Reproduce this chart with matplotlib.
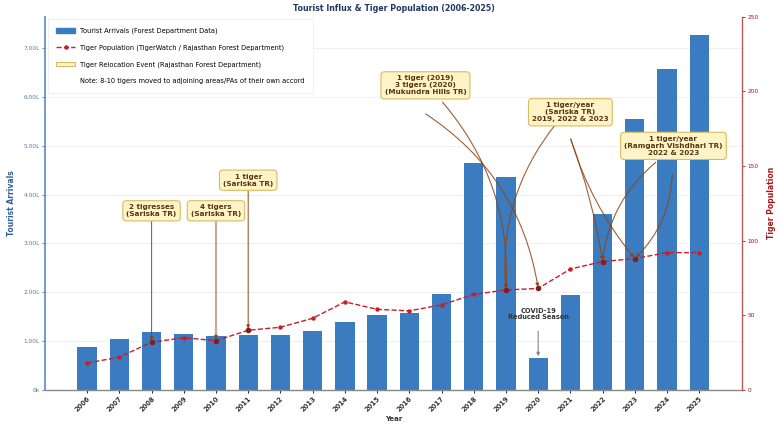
import matplotlib
matplotlib.use("Agg")
import matplotlib.pyplot as plt
from matplotlib.patches import Patch
from matplotlib.lines import Line2D
from matplotlib.ticker import FuncFormatter, MultipleLocator
import numpy as np

years = [str(y) for y in range(2006, 2026)]
tourist_arrivals = [89000, 104500, 119500, 115000, 111000, 113000, 113000, 121000,
                    139000, 154000, 158000, 196000, 464000, 436000, 65000, 194000,
                    360000, 555000, 658000, 728000]
tiger_population = [18, 22, 32, 35, 33, 40, 42, 48, 59, 54, 53, 57, 64, 67, 68, 81,
                    86, 88, 92, 92]
event_years = ["2008", "2010", "2011", "2019", "2020", "2022", "2023"]

BAR = "#3B7CC0"
RED = "#C81E2A"
BROWN = "#8B4513"
BOX_FC = "#FFF4C8"
BOX_EC = "#D8BC62"
TXT_BOX = "#5A3510"
LEFTC = "#2F5F9E"
RIGHTC = "#A51515"

fig = plt.figure(figsize=(7.8, 4.29), dpi=100)
ax = fig.add_axes([0.058, 0.091, 0.893, 0.87])
x = np.arange(len(years))

ax.bar(x, tourist_arrivals, width=0.6, color=BAR, zorder=2)
ax.set_xlim(-1.3, len(years) - 1 + 1.32)
ax.set_ylim(0, max(tourist_arrivals) * 1.05)
ax.yaxis.set_major_locator(MultipleLocator(100000))
ax.yaxis.set_major_formatter(FuncFormatter(lambda v, p: "0k" if v == 0 else f"{v/1e5:.2f}L"))
ax.set_xticks(x)
ax.set_xticklabels(years, rotation=45, ha="right", rotation_mode="anchor",
                   fontsize=4.8, fontweight="bold", color="#333333")
ax.tick_params(axis="y", labelsize=4.2, colors="#4A7CB5", length=2, width=0.6, pad=2)
ax.tick_params(axis="x", length=2, width=0.6, pad=2)
ax.grid(axis="y", color="#dddddd", linewidth=0.5, alpha=0.6, zorder=0)
ax.set_axisbelow(True)
ax.set_ylabel("Tourist Arrivals", fontsize=5.5, fontweight="bold", color=LEFTC, labelpad=5)
ax.set_xlabel("Year", fontsize=5, fontweight="bold", color="#333333", labelpad=2)
ax.spines["top"].set_visible(False)
ax.spines["left"].set_color("#5A8AC6")
ax.spines["left"].set_linewidth(1.2)
ax.spines["bottom"].set_color("#888888")
ax.spines["bottom"].set_linewidth(1.0)
ax.spines["right"].set_visible(False)

ax2 = ax.twinx()
ax2.plot(x, tiger_population, color=RED, linestyle="--", linewidth=1.0, marker="o",
         markersize=2.2, zorder=4)
ev_idx = [years.index(e) for e in event_years]
ax2.scatter([x[i] for i in ev_idx], [tiger_population[i] for i in ev_idx], s=9,
            color="#8B1A1A", zorder=5)
ax2.set_ylim(0, 250)
ax2.yaxis.set_major_locator(MultipleLocator(50))
ax2.tick_params(axis="y", labelsize=4.2, colors=RIGHTC, length=2, width=0.6, pad=2)
ax2.set_ylabel("Tiger Population", fontsize=5.5, fontweight="bold", color=RIGHTC, labelpad=6)
ax2.spines["top"].set_visible(False)
ax2.spines["left"].set_visible(False)
ax2.spines["bottom"].set_visible(False)
ax2.spines["right"].set_color("#B85A5A")
ax2.spines["right"].set_linewidth(1.0)

box = dict(boxstyle="round,pad=0.5", fc=BOX_FC, ec=BOX_EC, lw=0.8)
tkw = dict(fontsize=5.2, fontweight="bold", color=TXT_BOX, ha="center", va="center",
           linespacing=1.2, zorder=8)
ap = dict(arrowstyle="-|>", color=BROWN, lw=0.8, alpha=0.85, mutation_scale=5,
          shrinkA=0, shrinkB=1)

def yi(y):
    return years.index(y)

# single-arrow boxes
for txt, yr, ty in [("2 tigresses\n(Sariska TR)", "2008", 120),
                    ("4 tigers\n(Sariska TR)", "2010", 120),
                    ("1 tiger\n(Sariska TR)", "2011", 140.5)]:
    i = yi(yr)
    ax2.annotate(txt, xy=(x[i], tiger_population[i]), xytext=(x[i], ty), bbox=box,
                 arrowprops=dict(ap, shrinkA=0), **tkw)

# multi-arrow boxes
ax2.text(10.5, 204, "1 tiger (2019)\n3 tigers (2020)\n(Mukundra Hills TR)", bbox=box, **tkw)
ax2.text(15.0, 186, "1 tiger/year\n(Sariska TR)\n2019, 2022 & 2023", bbox=box, **tkw)
ax2.text(18.2, 163.5, "1 tiger/year\n(Ramgarh Vishdhari TR)\n2022 & 2023", bbox=box, **tkw)

arrows = [((11.03, 192.8), "2019", -0.2),
          ((10.51, 184.9), "2020", -0.22),
          ((14.55, 178.2), "2019", 0.2),
          ((15.01, 168.1), "2022", -0.05),
          ((15.01, 168.1), "2023", 0.1),
          ((17.65, 152.5), "2022", 0.2),
          ((18.16, 144.6), "2023", -0.2)]
for start, yr, rad in arrows:
    i = yi(yr)
    ax2.annotate("", xy=(x[i], tiger_population[i]), xytext=start,
                 arrowprops=dict(ap, connectionstyle=f"arc3,rad={rad}"), zorder=6)

# COVID note
ci = yi("2020")
ax.annotate("COVID-19\nReduced Season", xy=(x[ci], tourist_arrivals[ci] + 4000),
            xytext=(x[ci], 156000), ha="center", va="center", fontsize=4.8,
            fontweight="bold", color="#333333", linespacing=1.1,
            arrowprops=dict(arrowstyle="-|>", color="#888888", lw=0.8, mutation_scale=5,
                            shrinkA=6, shrinkB=0), zorder=7)

ax.set_title("Tourist Influx & Tiger Population (2006-2025)", fontsize=5.7,
             fontweight="bold", color="#1F3864", pad=4)

handles = [Patch(facecolor=BAR, edgecolor=BAR),
           Line2D([], [], color=RED, linestyle="--", marker="o", markersize=2.2, linewidth=1.0),
           Patch(facecolor=BOX_FC, edgecolor=BOX_EC, linewidth=0.8),
           Line2D([], [], color="none")]
labels = ["Tourist Arrivals (Forest Department Data)",
          "Tiger Population (TigerWatch / Rajasthan Forest Department)",
          "Tiger Relocation Event (Rajasthan Forest Department)",
          "Note: 8-10 tigers moved to adjoining areas/PAs of their own accord"]
leg = ax2.legend(handles, labels, loc="upper left", fontsize=4.8, frameon=True,
                 borderpad=1.3, labelspacing=1.55, handlelength=2.8, handletextpad=0.8,
                 borderaxespad=0.35, fancybox=False, edgecolor="#eeeeee", framealpha=1)
leg.get_frame().set_linewidth(0.6)
leg.set_zorder(10)

fig.savefig("out.png", dpi=100)
